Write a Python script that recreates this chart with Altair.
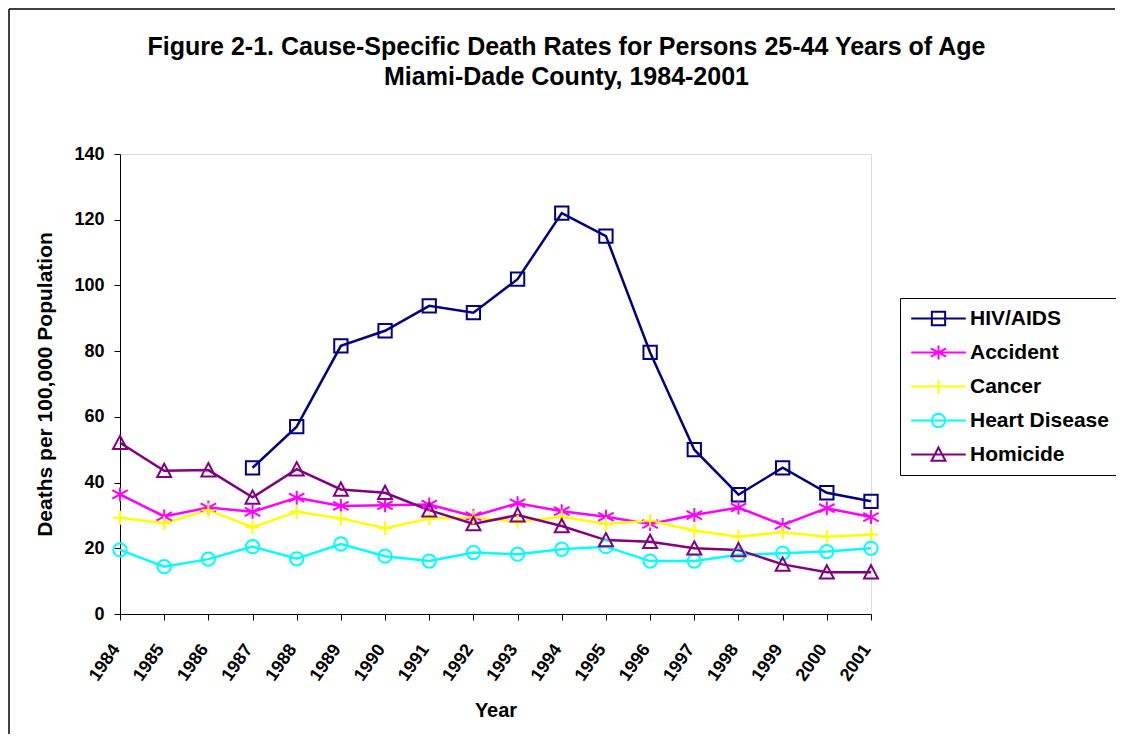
import altair as alt
import pandas as pd

FONT = "Liberation Sans"

years = [str(y) for y in range(1984, 2002)]
causes = ["HIV/AIDS", "Accident", "Cancer", "Heart Disease", "Homicide"]
hiv = [None, None, None, 44.5, 57.0, 81.6, 86.2, 93.8, 91.7, 101.9, 122.0, 115.0, 79.6, 50.0, 36.3, 44.5, 36.9, 34.3]
accident = [36.4, 29.7, 32.4, 31.1, 35.4, 32.9, 33.1, 33.3, 29.8, 33.7, 31.3, 29.6, 27.4, 30.1, 32.4, 27.1, 32.2, 29.5]
cancer = [29.3, 27.6, 31.6, 26.4, 31.1, 29.1, 26.1, 29.1, 29.4, 28.1, 29.6, 27.4, 28.4, 25.4, 23.5, 24.9, 23.5, 24.2]
heart = [19.5, 14.4, 16.7, 20.5, 16.8, 21.3, 17.6, 16.1, 18.7, 18.2, 19.7, 20.5, 16.1, 16.1, 18.0, 18.5, 19.0, 20.0]
homicide = [52.1, 43.6, 43.8, 35.5, 44.1, 37.9, 36.9, 31.6, 27.4, 30.1, 26.8, 22.5, 22.0, 20.0, 19.5, 15.1, 12.7, 12.7]

colors = ["#000080", "#FF00FF", "#FFFF00", "#00FFFF", "#800080"]
markers = [
    "M-0.95,-0.95L0.95,-0.95L0.95,0.95L-0.95,0.95Z",
    "M0,-1L0,1M-1.1,-0.6L1.1,0.6M-1.1,0.6L1.1,-0.6",
    "M-1,0L1,0M0,-1L0,1",
    "M-0.95,0A0.95,0.95 0 1,0 0.95,0A0.95,0.95 0 1,0 -0.95,0Z",
    "M0,-1L1,0.9L-1,0.9Z",
]
legend_line = "M-3.9,0L3.9,0"
legend_shapes = [m + legend_line for m in markers]

series = [hiv, accident, cancer, heart, homicide]
rows = []
for cause, vals in zip(causes, series):
    for y, v in zip(years, vals):
        if v is not None:
            rows.append({"Year": y, "Cause": cause, "Rate": v})
df = pd.DataFrame(rows)

color_scale = alt.Scale(domain=causes, range=colors)

x_enc = alt.X(
    "Year:O",
    scale=alt.Scale(type="point", padding=0, domain=years),
    axis=alt.Axis(
        title="Year", labelAngle=-55, tickSize=6, labelPadding=26, labelOffset=-4,
        titlePadding=17, domainColor="black", tickColor="black",
        labelFont=FONT, labelFontSize=18, labelFontWeight="bold", labelColor="black",
        titleFont=FONT, titleFontSize=20, titleFontWeight="bold", titleColor="black",
    ),
)
y_enc = alt.Y(
    "Rate:Q",
    scale=alt.Scale(domain=[0, 140], nice=False),
    axis=alt.Axis(
        title="Deaths per 100,000 Population", values=list(range(0, 141, 20)),
        grid=False, tickSize=6, labelPadding=10, titlePadding=18,
        domainColor="black", tickColor="black",
        labelFont=FONT, labelFontSize=18, labelFontWeight="bold", labelColor="black",
        titleFont=FONT, titleFontSize=21, titleFontWeight="bold", titleColor="black",
    ),
)

legend = alt.Legend(
    title=None, orient="none", legendX=780, legendY=144, padding=10,
    strokeColor="black", fillColor="white",
    labelFont=FONT, labelFontSize=21, labelFontWeight="bold", labelColor="black",
    symbolSize=196, symbolStrokeWidth=2, symbolOffset=18, labelOffset=21,
    symbolFillColor="transparent", rowPadding=11,
)

base = alt.Chart(df)
lines = base.mark_line(strokeWidth=2.5).encode(
    x=x_enc, y=y_enc,
    color=alt.Color("Cause:N", scale=color_scale, legend=legend),
    detail="Cause:N",
)

point_layers = []
for cause, m in zip(causes, markers):
    point_layers.append(
        base.transform_filter(alt.datum.Cause == cause)
        .mark_point(filled=False, strokeWidth=2, size=196, opacity=1)
        .encode(
            x=x_enc, y=y_enc,
            color=alt.Color("Cause:N", scale=color_scale, legend=legend),
            shape=alt.value(m),
        )
    )

# layer that draws nothing; only provides the legend's line+marker symbols
legend_layer = base.transform_filter(alt.datum.Rate < 0).mark_point(
    filled=False, strokeWidth=2, size=196
).encode(
    x=x_enc, y=y_enc,
    color=alt.Color("Cause:N", scale=color_scale, legend=legend),
    shape=alt.Shape("Cause:N", scale=alt.Scale(domain=causes, range=legend_shapes), legend=legend),
)

frame_data = alt.Data(values=[{"k": 1}])
top_border = alt.Chart(frame_data).mark_rule(color="black", strokeWidth=1.5).encode(
    x=alt.value(-111), x2=alt.value(995), y=alt.value(-145)
)
left_border = alt.Chart(frame_data).mark_rule(color="black", strokeWidth=1.5).encode(
    x=alt.value(-111), y=alt.value(-145), y2=alt.value(600)
)

chart = alt.layer(lines, *point_layers, legend_layer, top_border, left_border).properties(
    width=751, height=460,
    autosize=alt.AutoSizeParams(type="none"),
    padding={"left": 112, "top": 146, "right": 245, "bottom": 120},
    title=alt.TitleParams(
        text=["Figure 2-1. Cause-Specific Death Rates for Persons 25-44 Years of Age",
              "Miami-Dade County, 1984-2001"],
        font=FONT, fontSize=25, fontWeight="bold", color="black",
        anchor="middle", frame="group", dx=71, offset=0, dy=82, lineHeight=30,
    ),
).configure_view(stroke=None).configure(background="white")

chart.save("out.html", embed_options={"renderer": "svg", "actions": False})
